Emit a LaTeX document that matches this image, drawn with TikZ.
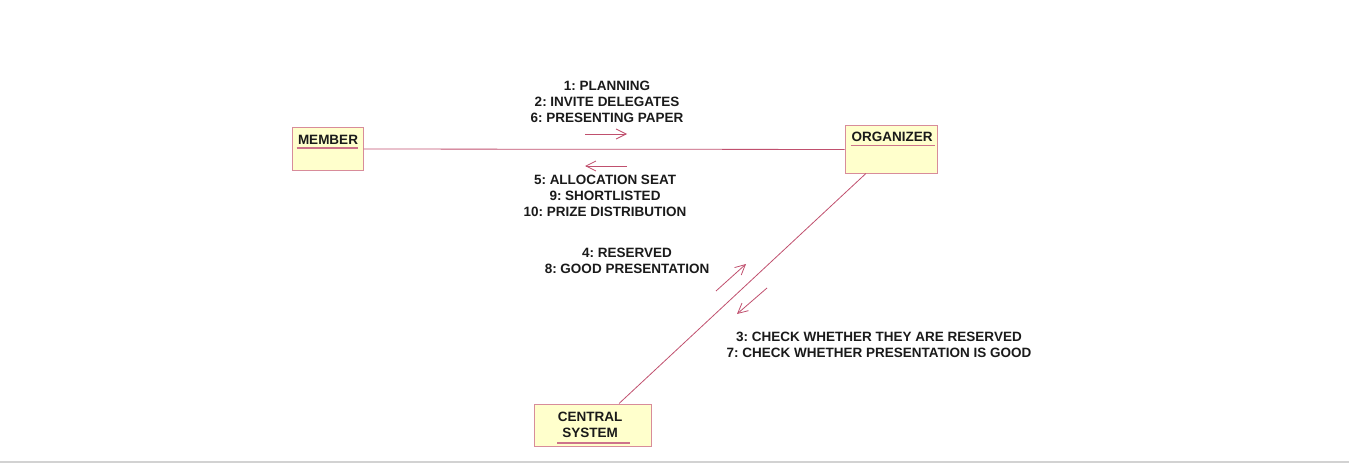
\documentclass[tikz,border=0pt]{standalone}
\usepackage{fontspec}
\setmainfont{Liberation Sans}
\usetikzlibrary{arrows.meta, calc}
\definecolor{linkred}{HTML}{C0506E}
\definecolor{objborder}{HTML}{D88C9A}
\definecolor{objfill}{HTML}{FFFFCC}
\definecolor{msgtext}{HTML}{1A1A1A}
\frenchspacing

\begin{document}
\begin{tikzpicture}[
    x=1pt, y=-1pt,
    obj/.style 2 args={
        rectangle, draw=objborder, fill=objfill, line width=1pt,
        minimum width=#1, minimum height=#2, inner sep=0pt
    },
    objname/.style={font=\fontsize{13.5}{16.5}\selectfont\bfseries, text=msgtext, inner sep=1pt, align=center},
    uline/.style={draw=linkred!80, line width=1.4pt},
    link/.style={draw=linkred, line width=0.8pt},
    msg/.style={draw=linkred, line width=0.8pt, -{Straight Barb[length=10pt, width=10pt]}},
    msglabel/.style={font=\fontsize{13.5}{16}\selectfont\bfseries, text=msgtext, align=center}
]
\useasboundingbox (0,0) rectangle (1349,468);

% Objects
\node[obj={71pt}{42pt}] (member) at (327.5,149) {};
\node[objname, anchor=base] (membert) at (328,145) {MEMBER};
\draw[uline] (member.west |- 0,148) ++(5,0) -- ++(61,0);

\node[obj={92pt}{47pt}] (organizer) at (891,149.5) {};
\node[objname, anchor=base] (organizert) at (892,141.5) {ORGANIZER};
\draw[uline] (organizer.west |- 0,145.5) ++(6,0) -- ++(84,0);

\node[obj={117pt}{42pt}] (central) at (592.5,425) {};
\node[objname, anchor=base] (centralt) at (590,437.5) {CENTRAL\\SYSTEM};
\draw[uline] (557,443) -- (630,443);

% Links
\draw[link] (member) -- (organizer);
\draw[link] ($(organizer.south)!0.54!(organizer.south west)$) -- ($(central.north)!0.45!(central.north east)$);

% Messages member <-> organizer
\coordinate (m1s) at (585,134);
\coordinate (m1e) at (627,134);
\coordinate (m2s) at (627,166);
\coordinate (m2e) at (585,166);
\draw[msg] (m1s) -- (m1e);
\draw[msg] (m2s) -- (m2e);
\node[msglabel] (msgtop) at (607,102) {1: PLANNING\\2: INVITE DELEGATES\\6: PRESENTING PAPER};
\node[msglabel] (msgbot) at (605,196) {5: ALLOCATION SEAT\\9: SHORTLISTED\\10: PRIZE DISTRIBUTION};

% Messages organizer <-> central system
\coordinate (m3s) at (716,291);
\coordinate (m3e) at (746,264);
\coordinate (m4s) at (767,288);
\coordinate (m4e) at (737,314);
\draw[msg] (m3s) -- (m3e);
\draw[msg] (m4s) -- (m4e);
\node[msglabel] (msgup) at (627,261) {4: RESERVED\\8: GOOD PRESENTATION};
\node[msglabel] (msgdown) at (879,345) {3: CHECK WHETHER THEY ARE RESERVED\\7: CHECK WHETHER PRESENTATION IS GOOD};

% bottom rule
\draw[gray!35, line width=1.5pt] (0,462) -- (1349,462);

\end{tikzpicture}
\end{document}
